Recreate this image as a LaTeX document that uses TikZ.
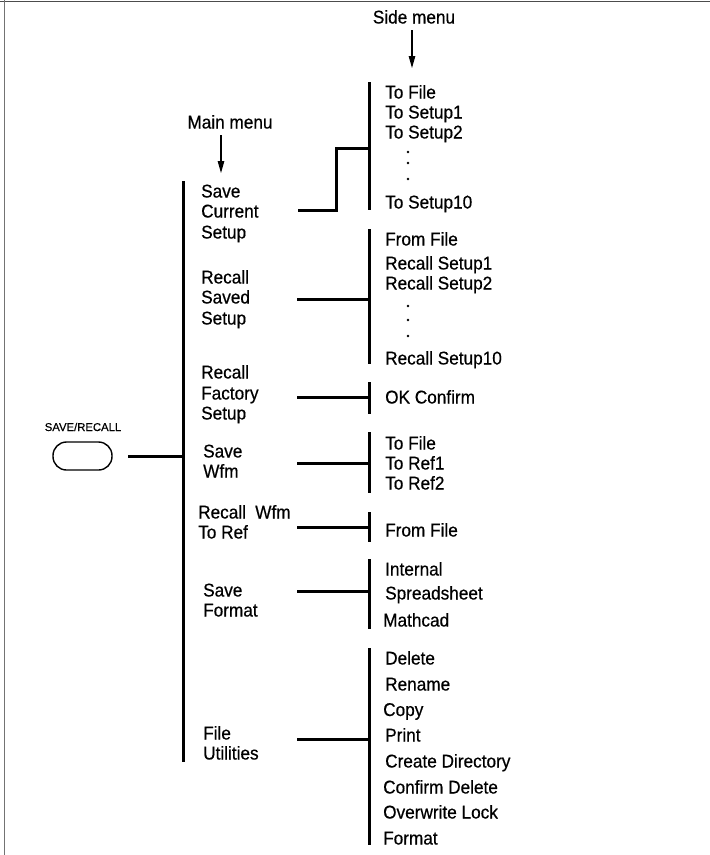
\documentclass[tikz,border=0pt]{standalone}
\usepackage{fontspec}
\setmainfont{Liberation Sans}[FakeStretch=0.93,FakeBold=0.5]
\newfontfamily\btnfont{Liberation Sans}[FakeBold=0.5]
\usetikzlibrary{arrows.meta}
\tikzset{
  frameline/.style={line width=1.4pt, draw=black!70},
  bar/.style={line width=3pt, draw=black},
  link/.style={line width=3pt, draw=black},
  pointer/.style={line width=1.1pt, -{Triangle[length=12pt,width=6.5pt]}},
  txt/.style={anchor=base west, inner sep=0pt, font=\fontsize{18.5}{20.5}\selectfont},
  ctxt/.style={anchor=base, inner sep=0pt, font=\fontsize{18.5}{20.5}\selectfont},
  dotmark/.style={fill=black, draw=none},
  button/.style={draw=black, line width=1.4pt, rounded corners=13.5pt, minimum width=59pt, minimum height=28pt, inner sep=0pt},
}
\begin{document}
\begin{tikzpicture}[x=1pt,y=-1pt]
\useasboundingbox (0,0) rectangle (710,855);
% frame
\draw[frameline] (0,1.5) -- (710,1.5);
\draw[frameline, draw=black!55] (4.5,0) -- (4.5,855);

% headers
\node[ctxt] (sidemenu) at (414,23.5) {Side menu};
\node[ctxt] (mainmenu) at (230,128.5) {Main menu};
\coordinate (sa1) at (412,30);
\coordinate (sa2) at (412,68);
\coordinate (ma1) at (221,135);
\coordinate (ma2) at (221,173);
\draw[pointer] (sa1) -- (sa2);
\draw[pointer] (ma1) -- (ma2);

% button
\node[anchor=base, inner sep=0pt, font=\btnfont\fontsize{11.3}{13}\selectfont] (btnlabel) at (83,431) {SAVE/RECALL};
\node[button] (btn) at (82.5,456) {};
\coordinate (mtop) at (183.5,181);
\coordinate (mbot) at (183.5,762);
\coordinate (mjoin) at (183.5,456);
\draw[bar] (mtop) -- (mbot);
\draw[link] (128,456) coordinate (bstart) -- (mjoin);

% main menu items
\node[txt] (sc1) at (201,197.5) {Save};
\node[txt] (sc2) at (201,217.5) {Current};
\node[txt] (sc3) at (201,238.5) {Setup};
\node[txt] (rs1) at (201,283.5) {Recall};
\node[txt] (rs2) at (201,303.5) {Saved};
\node[txt] (rs3) at (201,324.5) {Setup};
\node[txt] (rf1) at (201,378.5) {Recall};
\node[txt] (rf2) at (201,399.5) {Factory};
\node[txt] (rf3) at (201,419.5) {Setup};
\node[txt] (sw1) at (203,457.5) {Save};
\node[txt] (sw2) at (203,477.5) {Wfm};
\node[txt] (rw1) at (198,518.5) {Recall\hspace{0.5em}Wfm};
\node[txt] (rw2) at (198,538.5) {To Ref};
\node[txt] (sf1) at (203,596.5) {Save};
\node[txt] (sf2) at (203,616.5) {Format};
\node[txt] (fu1) at (203,739.5) {File};
\node[txt] (fu2) at (203,759.5) {Utilities};

% side bars
\coordinate (b1t) at (369.5,82);  \coordinate (b1b) at (369.5,210);
\coordinate (b2t) at (369.5,229); \coordinate (b2b) at (369.5,364);
\coordinate (b3t) at (369.5,382); \coordinate (b3b) at (369.5,414);
\coordinate (b4t) at (369.5,432); \coordinate (b4b) at (369.5,493);
\coordinate (b5t) at (369.5,512); \coordinate (b5b) at (369.5,542);
\coordinate (b6t) at (369.5,559); \coordinate (b6b) at (369.5,629);
\coordinate (b7t) at (369.5,648); \coordinate (b7b) at (369.5,845);
\foreach \i in {1,...,7} {\draw[bar] (b\i t) -- (b\i b);}

% connectors
\coordinate (c1s) at (298,210); \coordinate (c1e) at (369.5,148);
\draw[link] (c1s) -- (336,210) -- (336,148) -- (c1e);
\coordinate (c2s) at (297,299); \coordinate (c2e) at (369.5,299);
\coordinate (c3s) at (297,397); \coordinate (c3e) at (369.5,397);
\coordinate (c4s) at (297,463); \coordinate (c4e) at (369.5,463);
\coordinate (c5s) at (297,527); \coordinate (c5e) at (369.5,527);
\coordinate (c6s) at (297,591); \coordinate (c6e) at (369.5,591);
\coordinate (c7s) at (297,739); \coordinate (c7e) at (369.5,739);
\foreach \i in {2,...,7} {\draw[link] (c\i s) -- (c\i e);}

% side menu items
\node[txt] (s1a) at (385,98.5) {To File};
\node[txt] (s1b) at (385,118.5) {To Setup1};
\node[txt] (s1c) at (385,138.5) {To Setup2};
\foreach \y in {152,163,179} {\fill[dotmark] (408,\y) circle (1.3);}
\node[txt] (s1e) at (385,208.5) {To Setup10};

\node[txt] (s2a) at (385,245.5) {From File};
\node[txt] (s2b) at (385,269.5) {Recall Setup1};
\node[txt] (s2c) at (385,289.5) {Recall Setup2};
\foreach \y in {306,320,336} {\fill[dotmark] (408,\y) circle (1.3);}
\node[txt] (s2e) at (385,364.5) {Recall Setup10};

\node[txt] (s3a) at (385,403.5) {OK Confirm};

\node[txt] (s4a) at (385,449.5) {To File};
\node[txt] (s4b) at (385,469.5) {To Ref1};
\node[txt] (s4c) at (385,489.5) {To Ref2};

\node[txt] (s5a) at (385,536.5) {From File};

\node[txt] (s6a) at (385,575.5) {Internal};
\node[txt] (s6b) at (385,599.5) {Spreadsheet};
\node[txt] (s6c) at (383,626.5) {Mathcad};

\node[txt] (s7a) at (385,664.5) {Delete};
\node[txt] (s7b) at (385,690.5) {Rename};
\node[txt] (s7c) at (383,716) {Copy};
\node[txt] (s7d) at (385,741.5) {Print};
\node[txt] (s7e) at (385,767.5) {Create Directory};
\node[txt] (s7f) at (383,793.5) {Confirm Delete};
\node[txt] (s7g) at (383,818.5) {Overwrite Lock};
\node[txt] (s7h) at (383,844.5) {Format};
\end{tikzpicture}
\end{document}
